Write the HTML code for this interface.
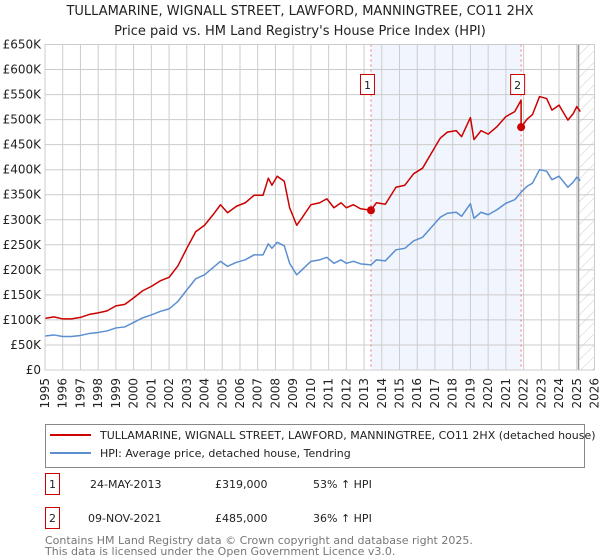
<!DOCTYPE html>
<html><head><meta charset="utf-8"><style>
body{margin:0;background:#fff;font-family:"DejaVu Sans","Liberation Sans",sans-serif;}
svg{display:block}
</style></head><body>
<svg id="chart" width="600" height="560" viewBox="0 0 600 560">
<text x="300" y="15" text-anchor="middle" font-size="13" fill="#222">TULLAMARINE, WIGNALL STREET, LAWFORD, MANNINGTREE, CO11 2HX</text>
<text x="300" y="35" text-anchor="middle" font-size="13" fill="#222">Price paid vs. HM Land Registry's House Price Index (HPI)</text>
<defs><pattern id="hatch" width="8" height="8" patternUnits="userSpaceOnUse" patternTransform="rotate(45)"><line x1="0" y1="0" x2="0" y2="8" stroke="#ccc" stroke-width="1"/></pattern></defs>
<g id="plot"></g>
<g id="legend">
<rect x="45.5" y="424.5" width="539" height="43" fill="#fff" stroke="#888"/>
<line x1="50" y1="435" x2="91" y2="435" stroke="#cc0000" stroke-width="2"/>
<text x="100" y="439" font-size="11" fill="#222">TULLAMARINE, WIGNALL STREET, LAWFORD, MANNINGTREE, CO11 2HX (detached house)</text>
<line x1="50" y1="453" x2="91" y2="453" stroke="#5b8fd0" stroke-width="2"/>
<text x="100" y="457" font-size="11" fill="#222">HPI: Average price, detached house, Tendring</text>
</g>
<g font-size="11" fill="#222">
<rect x="45.5" y="473.5" width="14" height="21" fill="#fff" stroke="#cc0000"/>
<text x="52.5" y="488" text-anchor="middle">1</text>
<text x="90" y="488">24-MAY-2013</text><text x="215" y="488">£319,000</text><text x="313" y="488">53% ↑ HPI</text>
<rect x="45.5" y="507.5" width="14" height="21" fill="#fff" stroke="#cc0000"/>
<text x="52.5" y="522" text-anchor="middle">2</text>
<text x="88" y="522">09-NOV-2021</text><text x="215" y="522">£485,000</text><text x="313" y="522">36% ↑ HPI</text>
</g>
<g font-size="11" fill="#777">
<text x="45" y="544">Contains HM Land Registry data © Crown copyright and database right 2025.</text>
<text x="45" y="555">This data is licensed under the Open Government Licence v3.0.</text>
</g>
</svg>
<script>
const hpiYears=[1995.0,1995.5,1996.0,1996.5,1997.0,1997.5,1998.0,1998.5,1999.0,1999.5,2000.0,2000.5,2001.0,2001.5,2002.0,2002.5,2003.0,2003.5,2004.0,2004.5,2004.9,2005.3,2005.8,2006.3,2006.8,2007.3,2007.6,2007.8,2008.1,2008.5,2008.8,2009.2,2009.5,2010.0,2010.5,2010.9,2011.3,2011.7,2012.0,2012.4,2012.8,2013.39,2013.7,2014.2,2014.8,2015.3,2015.8,2016.3,2016.8,2017.3,2017.7,2018.2,2018.5,2019.0,2019.2,2019.6,2020.0,2020.5,2021.0,2021.5,2021.86,2022.2,2022.5,2022.9,2023.3,2023.6,2024.0,2024.5,2024.8,2025.0,2025.2];
const hpiValues=[68,70,67,67,69,73,75,78,84,86,95,104,110,117,122,137,160,182,190,205,217,207,215,220,230,230,252,243,255,248,213,190,200,217,220,225,213,220,213,217,212,210,220,218,240,243,258,265,285,305,313,315,307,332,303,315,310,320,333,340,355,367,373,400,397,380,387,365,375,385,378];
const priceYears=[1995.0,1995.5,1996.0,1996.5,1997.0,1997.5,1998.0,1998.5,1999.0,1999.5,2000.0,2000.5,2001.0,2001.5,2002.0,2002.5,2003.0,2003.5,2004.0,2004.5,2004.9,2005.3,2005.8,2006.3,2006.8,2007.3,2007.6,2007.8,2008.1,2008.5,2008.8,2009.2,2009.5,2010.0,2010.5,2010.9,2011.3,2011.7,2012.0,2012.4,2012.8,2013.39,2013.7,2014.2,2014.8,2015.3,2015.8,2016.3,2016.8,2017.3,2017.7,2018.2,2018.5,2019.0,2019.2,2019.6,2020.0,2020.5,2021.0,2021.5,2021.86,2021.86,2022.2,2022.5,2022.9,2023.3,2023.6,2024.0,2024.5,2024.8,2025.0,2025.2];
const priceValues=[103,106,102,102,105,111,114,118,128,131,144,158,167,178,185,208,243,276,289,311,330,314,327,334,349,349,383,369,387,377,324,289,304,330,334,342,324,334,324,330,322,319,334,331,365,369,392,403,433,463,475,478,466,504,460,478,471,486,506,516,539,485,501,510,546,542,519,529,499,512,526,516];
const saleYears=[2013.39,2021.86];
const saleValues=[319,485];
const saleLabels=["1","2"];
const yTicks=[0,50,100,150,200,250,300,350,400,450,500,550,600,650];
const yTickLabels=["£0","£50K","£100K","£150K","£200K","£250K","£300K","£350K","£400K","£450K","£500K","£550K","£600K","£650K"];
const xTicks=[1995,1996,1997,1998,1999,2000,2001,2002,2003,2004,2005,2006,2007,2008,2009,2010,2011,2012,2013,2014,2015,2016,2017,2018,2019,2020,2021,2022,2023,2024,2025,2026];
const dataEndYear=2025.1;

const L=45,R=594.5,T=44.5,B=370;
const x=y=>L+(y-1995)/(2026-1995)*(R-L);
const yS=v=>B-v/650*(B-T);
const NS="http://www.w3.org/2000/svg";
const g=document.getElementById('plot');
function mk(tag,attrs,parent){const e=document.createElementNS(NS,tag);for(const k in attrs)e.setAttribute(k,attrs[k]);(parent||g).appendChild(e);return e;}

const shade=mk('rect',{x:x(saleYears[0]),y:T,width:x(saleYears[1])-x(saleYears[0]),height:B-T,fill:'#eef3fc',opacity:0.8});


const hat=mk('rect',{x:x(dataEndYear),y:T,width:R-x(dataEndYear),height:B-T,fill:'url(#hatch)'});



yTicks.forEach((v,i)=>{
  const ln=mk('line',{x1:L,x2:R,y1:yS(v),y2:yS(v),stroke:'#ccc','stroke-width':1});
  
  
  const t=mk('text',{x:L-4,y:yS(v)+4,'text-anchor':'end','font-size':12,fill:'#222'});
  t.textContent=yTickLabels[i];
  
  
});
xTicks.forEach(yr=>{
  const ln=mk('line',{x1:x(yr),x2:x(yr),y1:T,y2:B,stroke:'#ccc','stroke-width':1});
  
  
  const t=mk('text',{transform:`translate(${x(yr)+4},${B+8}) rotate(-90)`,'text-anchor':'end','font-size':12,fill:'#222'});
  t.textContent=yr;
  
  
});
const endLine=mk('line',{x1:x(dataEndYear),x2:x(dataEndYear),y1:T,y2:B,stroke:'#999','stroke-width':1.5});



saleYears.forEach((yr,i)=>{
  const d=mk('line',{x1:x(yr),x2:x(yr),y1:T,y2:B,stroke:'#f07070','stroke-width':1,'stroke-dasharray':'2,3'});
  
  
});

const hp=mk('polyline',{points:hpiYears.map((yr,i)=>x(yr)+','+yS(hpiValues[i])).join(' '),fill:'none',stroke:'#5b8fd0','stroke-width':1.5,'stroke-linejoin':'round'});


const pp=mk('polyline',{points:priceYears.map((yr,i)=>x(yr)+','+yS(priceValues[i])).join(' '),fill:'none',stroke:'#cc0000','stroke-width':1.5,'stroke-linejoin':'round'});



saleYears.forEach((yr,i)=>{
  const c=mk('circle',{cx:x(yr),cy:yS(saleValues[i]),r:4,fill:'#cc0000'});
  
  
  const bx=mk('rect',{x:x(yr)-10.5,y:74.5,width:14,height:20,fill:'#fff',stroke:'#cc0000'});
  
  
  const t=mk('text',{x:x(yr)-3.5,y:89,'text-anchor':'middle','font-size':11,fill:'#222'});
  t.textContent=saleLabels[i];
  
  
});
const frame=mk('rect',{x:L,y:T,width:R-L,height:B-T,fill:'none',stroke:'#ccc'});


</script>
</body></html>
